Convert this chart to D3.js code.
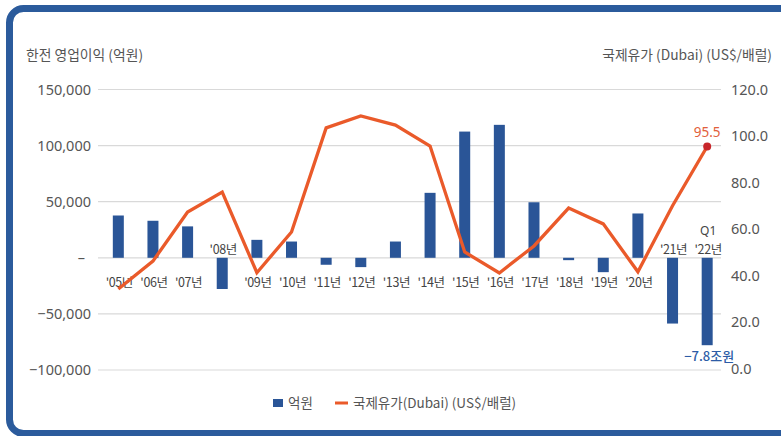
<!DOCTYPE html>
<html><head><meta charset="utf-8">
<script src="https://cdn.jsdelivr.net/npm/d3@7"></script>
<style>
html,body{margin:0;padding:0;background:#fff;}
svg{display:block;font-family:"Noto Sans CJK KR","Noto Sans",sans-serif;}
</style></head>
<body>
<svg id="c" width="781" height="436"></svg>
<script>
const categories = ["'05년","'06년","'07년","'08년","'09년","'10년","'11년","'12년","'13년","'14년","'15년","'16년","'17년","'18년","'19년","'20년","'21년","'22년"];
const profit = [37700, 33000, 28000, -27800, 16000, 14500, -6200, -8300, 14500, 57900, 112500, 118500, 49500, -2100, -12800, 39500, -58600, -77900];
const oil = [34.2, 46.2, 67.3, 75.9, 41.2, 58.7, 103.5, 108.6, 104.7, 95.7, 50.1, 41.1, 52.7, 69.0, 62.2, 41.6, 70.0, 95.5];
const leftTicks = [150000, 100000, 50000, 0, -50000, -100000];
const rightTicks = [120, 100, 80, 60, 40, 20, 0];
const labelAbove = ["'08년", "'21년", "'22년"];

const svg = d3.select("#c");
const blue = "#2a5597", orange = "#ea5a2a", grey = "#555";

// frame
svg.append("rect").attr("x", 9.5).attr("y", 8.5).attr("width", 820).attr("height", 425)
  .attr("rx", 14).attr("fill", "none").attr("stroke", "#2b5b9c").attr("stroke-width", 7);

const x = d3.scaleBand().domain(categories).range([101, 724.5]).paddingInner(0.68).paddingOuter(0.34);
const yL = d3.scaleLinear().domain([-100000, 150000]).range([370, 89.5]);
const yR = d3.scaleLinear().domain([0, 120]).range([368.5, 89.5]);

// gridlines
svg.append("g").selectAll("line").data(leftTicks).join("line")
  .attr("x1", 98).attr("x2", 721).attr("y1", d => yL(d)).attr("y2", d => yL(d))
  .attr("stroke", "#d9d9d9").attr("stroke-width", 1.2);

// left axis
const fmtL = d => d === 0 ? "–" : d3.format(",")(d);
const axL = svg.append("g").attr("transform", "translate(91,0)")
  .call(d3.axisLeft(yL).tickValues(leftTicks).tickSize(0).tickPadding(0).tickFormat(fmtL));
axL.select(".domain").remove();
axL.selectAll("text").attr("font-size", 14.5).attr("fill", grey).attr("font-family", "'Noto Sans', sans-serif");
axL.selectAll(".tick").filter(d => d === 0).select("text").attr("dx", -6);

// right axis
const axR = svg.append("g").attr("transform", "translate(731,0)")
  .call(d3.axisRight(yR).tickValues(rightTicks).tickSize(0).tickPadding(0).tickFormat(d3.format(".1f")));
axR.select(".domain").remove();
axR.selectAll("text").attr("font-size", 14.5).attr("fill", grey).attr("font-family", "'Noto Sans', sans-serif");

// titles
svg.append("text").attr("x", 26).attr("y", 60).attr("font-size", 13.8).attr("fill", grey).text("한전 영업이익 (억원)");
svg.append("text").attr("x", 772).attr("y", 60).attr("text-anchor", "end").attr("font-size", 13.8).attr("fill", grey).text("국제유가 (Dubai) (US$/배럴)");

// bars
const bw = 11;
svg.append("g").selectAll("rect").data(categories).join("rect")
  .attr("x", (d) => x(d) + x.bandwidth() / 2 - bw / 2)
  .attr("width", bw)
  .attr("y", (d, i) => Math.min(yL(0), yL(profit[i])))
  .attr("height", (d, i) => Math.abs(yL(profit[i]) - yL(0)))
  .attr("fill", blue);

// x labels
const cx = d => x(d) + x.bandwidth() / 2;
svg.append("g").selectAll("text").data(categories).join("text")
  .attr("x", d => cx(d) + 1)
  .attr("y", d => labelAbove.includes(d) ? 254 : 287)
  .attr("text-anchor", "middle").attr("font-size", 12.5).attr("fill", "#444")
  .attr("letter-spacing", -0.4)
  .text(d => d);
svg.append("text").attr("x", cx("'22년") + 1).attr("y", 235).attr("text-anchor", "middle")
  .attr("font-size", 12).attr("fill", "#444").attr("font-family", "'Noto Sans', sans-serif").text("Q1");

// line
const line = d3.line().x((d, i) => cx(categories[i])).y(d => yR(d));
svg.append("path").datum(oil).attr("d", line).attr("fill", "none")
  .attr("stroke", orange).attr("stroke-width", 3.3).attr("stroke-linejoin", "miter");

// last point
const lastI = oil.length - 1;
svg.append("circle").attr("cx", cx(categories[lastI])).attr("cy", yR(oil[lastI])).attr("r", 4)
  .attr("fill", "#c8262a");
svg.append("text").attr("x", cx(categories[lastI])).attr("y", yR(oil[lastI]) - 9)
  .attr("text-anchor", "middle").attr("font-size", 13.5).attr("fill", "#e2603c")
  .attr("font-family", "'Noto Sans', sans-serif").text("95.5");
svg.append("text").attr("x", cx(categories[lastI]) + 2).attr("y", yL(profit[lastI]) + 16)
  .attr("text-anchor", "middle").attr("font-size", 13).attr("fill", "#2d5ca6").attr("font-weight", 500)
  .text("−7.8조원");

// legend
const lg = svg.append("g");
lg.append("rect").attr("x", 273).attr("y", 399).attr("width", 10).attr("height", 8).attr("fill", blue);
lg.append("text").attr("x", 288).attr("y", 408).attr("font-size", 13.5).attr("fill", grey).text("억원");
lg.append("line").attr("x1", 335).attr("x2", 348).attr("y1", 403).attr("y2", 403).attr("stroke", orange).attr("stroke-width", 3);
lg.append("text").attr("x", 353).attr("y", 408).attr("font-size", 13.5).attr("fill", grey).text("국제유가(Dubai) (US$/배럴)");
</script>
</body></html>
